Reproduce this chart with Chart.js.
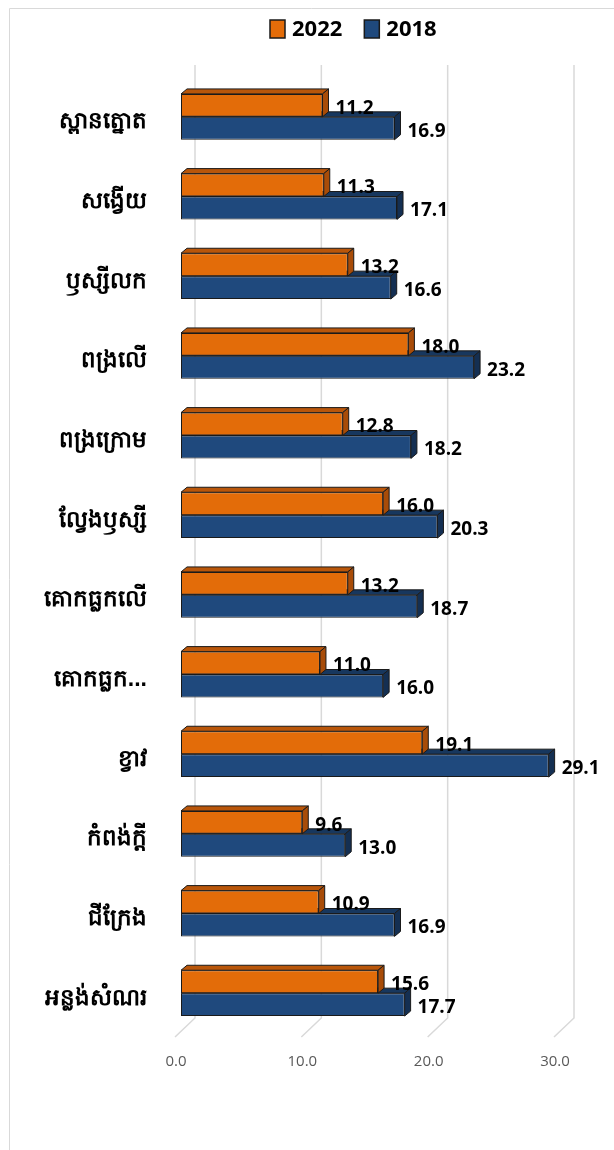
<!DOCTYPE html>
<html>
<head>
<meta charset="utf-8">
<script src="https://cdn.jsdelivr.net/npm/chart.js@4"></script>
<style>
  html, body { margin: 0; padding: 0; background: #fff; }
  canvas { display: block; }
</style>
</head>
<body>
<canvas id="chart" width="614" height="1150"></canvas>
<script>
const categories = ['ស្ពានត្នោត', 'សង្វើយ', 'ឫស្សីលក', 'ពង្រលើ', 'ពង្រក្រោម', 'ល្វែងឫស្សី',
  'គោកធ្លកលើ', 'គោកធ្លក...', 'ខ្វាវ', 'កំពង់ក្តី', 'ជីក្រែង', 'អន្លង់សំណរ'];
const values2022 = [11.2, 11.3, 13.2, 18.0, 12.8, 16.0, 13.2, 11.0, 19.1, 9.6, 10.9, 15.6];
const values2018 = [16.9, 17.1, 16.6, 23.2, 18.2, 20.3, 18.7, 16.0, 29.1, 13.0, 16.9, 17.7];
const xTicks = [0, 10, 20, 30];

const DX = 6, DY = 5; // depth of the bar faces

function poly(ctx, pts, fill) {
  ctx.beginPath();
  ctx.moveTo(pts[0][0], pts[0][1]);
  for (let i = 1; i < pts.length; i++) ctx.lineTo(pts[i][0], pts[i][1]);
  ctx.closePath();
  ctx.fillStyle = fill;
  ctx.fill();
  ctx.strokeStyle = '#1a1a1a';
  ctx.lineWidth = 1;
  ctx.stroke();
}

const framePlugin = {
  id: 'frame',
  beforeDraw(chart) {
    const ctx = chart.ctx;
    ctx.save();
    ctx.strokeStyle = '#d9d9d9';
    ctx.lineWidth = 1;
    ctx.beginPath();
    ctx.moveTo(9.5, 1150);
    ctx.lineTo(9.5, 8.5);
    ctx.lineTo(614, 8.5);
    ctx.stroke();
    ctx.restore();
  }
};

// back wall grid lines with a slanted floor piece
const gridPlugin = {
  id: 'grid3d',
  beforeDatasetsDraw(chart) {
    const ctx = chart.ctx, xs = chart.scales.x, area = chart.chartArea;
    ctx.save();
    ctx.strokeStyle = '#d9d9d9';
    ctx.lineWidth = 1.5;
    xTicks.forEach(v => {
      const px = xs.getPixelForValue(v);
      ctx.beginPath();
      ctx.moveTo(px + 14, area.top - 12);
      ctx.lineTo(px + 14, area.bottom - 15);
      ctx.lineTo(px - 6, area.bottom + 4);
      ctx.stroke();
    });
    ctx.restore();
  }
};

const facesPlugin = {
  id: 'faces',
  afterDatasetDraw(chart, args) {
    const ctx = chart.ctx;
    const ds = chart.data.datasets[args.index];
    ctx.save();
    args.meta.data.forEach(bar => {
      const p = bar.getProps(['x', 'y', 'base', 'height'], true);
      const top = p.y - p.height / 2, bot = p.y + p.height / 2;
      poly(ctx, [[p.base, top], [p.base + DX, top - DY], [p.x + DX, top - DY], [p.x, top]], ds.topColor);
      poly(ctx, [[p.x, top], [p.x + DX, top - DY], [p.x + DX, bot - DY], [p.x, bot]], ds.sideColor);
    });
    ctx.restore();
  }
};

const labelsPlugin = {
  id: 'valueLabels',
  afterDatasetsDraw(chart) {
    const ctx = chart.ctx;
    ctx.save();
    ctx.font = 'bold 19px "Open Sans"';
    ctx.fillStyle = '#000';
    ctx.textAlign = 'left';
    ctx.textBaseline = 'middle';
    chart.data.datasets.forEach((ds, i) => {
      chart.getDatasetMeta(i).data.forEach((bar, j) => {
        ctx.fillText(ds.data[j].toFixed(1), bar.x + 13, bar.y + 3);
      });
    });
    ctx.restore();
  }
};

const legendPlugin = {
  id: 'legend3d',
  afterDraw(chart) {
    const ctx = chart.ctx;
    ctx.save();
    ctx.font = 'bold 22px "Open Sans"';
    ctx.textBaseline = 'middle';
    ctx.textAlign = 'left';
    let x = 270;
    chart.data.datasets.forEach(ds => {
      ctx.fillStyle = ds.backgroundColor;
      ctx.fillRect(x, 20, 15, 18);
      ctx.strokeStyle = '#1a1a1a';
      ctx.lineWidth = 1.5;
      ctx.strokeRect(x, 20, 15, 18);
      ctx.fillStyle = '#000';
      ctx.fillText(ds.label, x + 22, 30);
      x += 22 + ctx.measureText(ds.label).width + 22;
    });
    ctx.restore();
  }
};

new Chart(document.getElementById('chart'), {
  type: 'bar',
  data: {
    labels: categories,
    datasets: [{
      label: '2022',
      data: values2022,
      backgroundColor: '#e36c09',
      topColor: '#b9560a',
      sideColor: '#a84c08'
    }, {
      label: '2018',
      data: values2018,
      backgroundColor: '#1f497d',
      topColor: '#17375e',
      sideColor: '#142f52'
    }]
  },
  options: {
    indexAxis: 'y',
    responsive: false,
    animation: false,
    devicePixelRatio: 1,
    datasets: {
      bar: {
        borderColor: '#1a1a1a',
        borderWidth: 1,
        borderSkipped: false,
        categoryPercentage: 0.575,
        barPercentage: 1
      }
    },
    layout: { padding: { left: 0, right: 54, top: 77, bottom: 77 } },
    plugins: {
      legend: { display: false },
      tooltip: { enabled: false }
    },
    scales: {
      x: {
        min: 0,
        max: 30,
        afterFit: s => { s.height = 40; },
        grid: { display: false },
        border: { display: false },
        ticks: {
          stepSize: 10,
          padding: 12,
          labelOffset: -5,
          color: '#595959',
          font: { family: '"Open Sans"', size: 15 },
          callback: v => Number(v).toFixed(1)
        }
      },
      y: {
        afterFit: s => { s.width = 181; },
        grid: { display: false, drawTicks: false, tickLength: 0 },
        border: { display: false },
        ticks: {
          padding: 34,
          labelOffset: 5,
          color: '#000',
          font: { size: 23, weight: 'bold' }
        }
      }
    }
  },
  plugins: [framePlugin, gridPlugin, facesPlugin, labelsPlugin, legendPlugin]
});
</script>
</body>
</html>
